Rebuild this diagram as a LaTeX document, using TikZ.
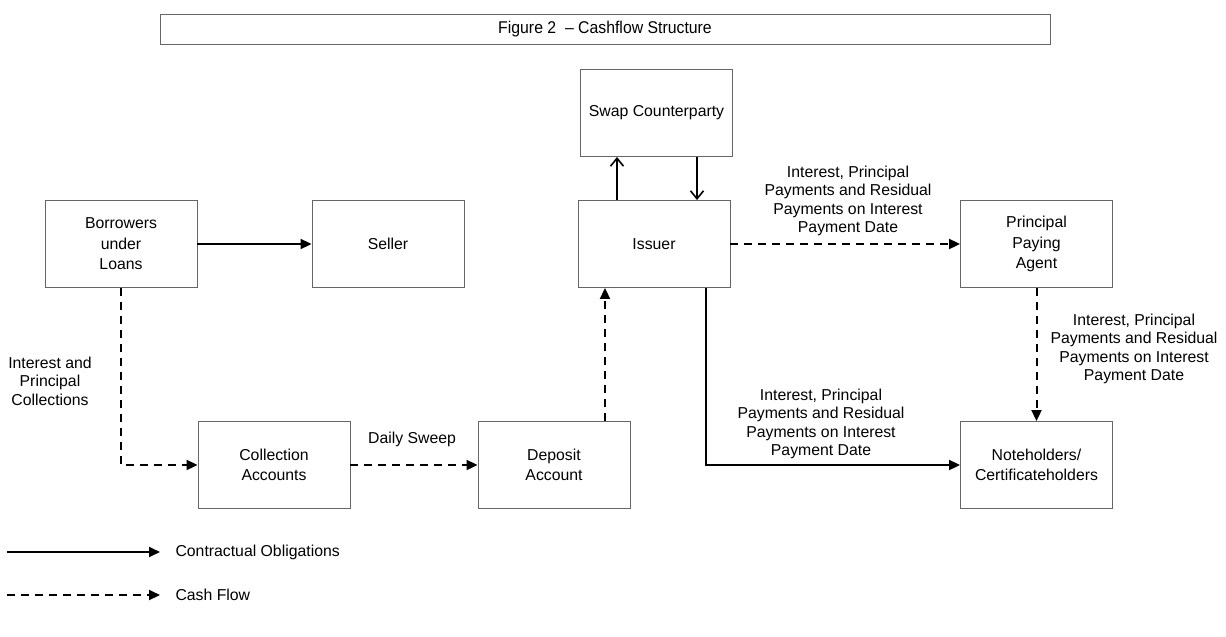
\documentclass[tikz,border=0pt]{standalone}
\usepackage{fontspec}
\setmainfont{Liberation Sans}
\usetikzlibrary{arrows.meta}
\tikzstyle{party}=[draw=black!60, line width=0.9pt, minimum width=152pt, minimum height=87pt, inner sep=0pt, align=center, font=\fontsize{15.8}{20.5}\selectfont]
\tikzstyle{flowtxt}=[align=center, font=\fontsize{15.8}{18.5}\selectfont]
\tikzstyle{oblig}=[line width=2pt, -{Triangle[length=11pt,width=10pt]}]
\tikzstyle{cash}=[oblig, dash pattern=on 8pt off 6pt]
\tikzstyle{swapline}=[line width=2pt, -{Straight Barb[length=8pt,width=13pt,line width=1.6pt]}]
\newcommand{\pay}{Interest, Principal\\Payments and Residual\\Payments on Interest\\Payment Date}

\begin{document}
\begin{tikzpicture}[x=1pt,y=-1pt]
  \useasboundingbox (0,0) rectangle (1226,637);
  % title
  \node[draw=black!60, line width=0.9pt, minimum width=890pt, minimum height=30pt, inner sep=0pt] (title) at (605,29)
    {\fontsize{17}{19}\selectfont\scalebox{0.93}[1]{Figure 2\ \ -- Cashflow Structure}};
  % parties
  \node[party] (borrow) at (121,244) {Borrowers\\under\\Loans};
  \node[party] (seller) at (388,244) {Seller};
  \node[party] (issuer) at (654,244) {Issuer};
  \node[party] (swap) at (656.5,113) {Swap Counterparty};
  \node[party] (ppa) at (1036.5,244) {Principal\\Paying\\Agent};
  \node[party] (coll) at (274,465) {Collection\\Accounts};
  \node[party] (dep) at (554,465) {Deposit\\Account};
  \node[party] (notes) at (1036.5,465) {Noteholders/\\Certificateholders};
  % flows
  \draw[oblig] (borrow) -- (seller);
  \draw[cash] (borrow.south) |- (coll.west);
  \draw[cash] (coll) -- (dep);
  \draw[cash] ([xshift=51pt]dep.north) -- ([xshift=-49pt]issuer.south);
  \draw[swapline] ([xshift=-37pt]issuer.north) -- ([xshift=-39.5pt]swap.south);
  \draw[swapline] ([xshift=40.5pt]swap.south) -- ([xshift=43pt]issuer.north);
  \draw[cash] (issuer) -- (ppa);
  \draw[oblig] ([xshift=52pt]issuer.south) |- (notes.west);
  \draw[cash] (ppa) -- (notes);
  % flow labels
  \node[flowtxt] (collect) at (50,381) {Interest and\\Principal\\Collections};
  \node[flowtxt] (sweep) at (412,439) {Daily Sweep};
  \node[flowtxt] (topay) at (848,201) {\pay};
  \node[flowtxt] (tonotes) at (821,424) {\pay};
  \node[flowtxt] (viappa) at (1134,349) {\pay};
  % legend
  \coordinate (l1a) at (7,552);
  \coordinate (l1b) at (160,552);
  \coordinate (l2a) at (7,595);
  \coordinate (l2b) at (160,595);
  \draw[oblig] (l1a) -- (l1b);
  \draw[cash] (l2a) -- (l2b);
  \node[flowtxt, anchor=west] (keyobl) at (172,552) {Contractual Obligations};
  \node[flowtxt, anchor=west] (keycash) at (172,595) {Cash Flow};
\end{tikzpicture}
\end{document}
